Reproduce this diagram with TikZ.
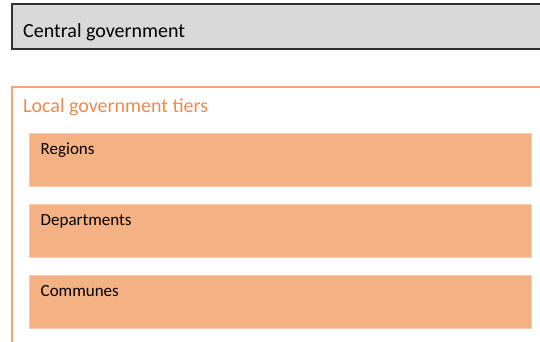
\documentclass[tikz,border=0pt]{standalone}
\usepackage{fontspec}
\setmainfont{Carlito}
\usepackage{tikz}
\usetikzlibrary{positioning}
\definecolor{centralgray}{HTML}{D9D9D9}
\definecolor{centralline}{HTML}{303030}
\definecolor{tierline}{HTML}{F4A46E}
\definecolor{tiertext}{HTML}{F08A4B}
\definecolor{tierfill}{HTML}{F4B183}
\definecolor{tieredge}{HTML}{F8CBAD}

\begin{document}
\begin{tikzpicture}[x=1pt, y=1pt,
    tierbar/.style={draw=tieredge, fill=tierfill, line width=0.8pt,
        minimum width=502pt, minimum height=53pt, inner sep=0pt, outer sep=0pt},
    boxlabel/.style={inner sep=0pt, anchor=base west,
        font=\fontsize{17}{20}\selectfont}
]
    \useasboundingbox (0,0) rectangle (540,-341);
    \clip (0,0) rectangle (540,-341);
    % Central
    \node [draw=centralline,
        fill=centralgray,
        line width=1.5pt,
        minimum width=548pt,
        minimum height=45pt,
        inner sep=0pt,
        outer sep=0pt,
        anchor=north west
    ]  (Central) at (12,-4) {};
    \node [inner sep=0pt,
        font=\fontsize{20}{24}\selectfont,
        below right=33pt and 11pt of Central.north west,
        anchor=base west
    ]  (CentralText) {Central government};
    % Local tiers
    \node [draw=tierline,
        line width=1.5pt,
        minimum width=548pt,
        minimum height=280pt,
        inner sep=0pt,
        outer sep=0pt,
        below=38pt of Central.south west,
        anchor=north west
    ]  (Local) {};
    \node [inner sep=0pt,
        text=tiertext,
        font=\fontsize{20}{24}\selectfont,
        below right=25.5pt and 11pt of Local.north west,
        anchor=base west
    ]  (LocalText) {Local government tiers};
    % Tiers
    \node [tierbar,
        below right=46pt and 17pt of Local.north west,
        anchor=north west
    ]  (Regions) {};
    \node [tierbar,
        below=18pt of Regions.south west,
        anchor=north west
    ]  (Departments) {};
    \node [tierbar,
        below=18pt of Departments.south west,
        anchor=north west
    ]  (Communes) {};
    \node [below right=21.5pt and 11.5pt of Regions.north west,
        boxlabel
    ]  (RegionsText) {Regions};
    \node [below right=21.5pt and 11.5pt of Departments.north west,
        boxlabel
    ]  (DepartmentsText) {Departments};
    \node [below right=21.5pt and 11.5pt of Communes.north west,
        boxlabel
    ]  (CommunesText) {Communes};
\end{tikzpicture}
\end{document}
